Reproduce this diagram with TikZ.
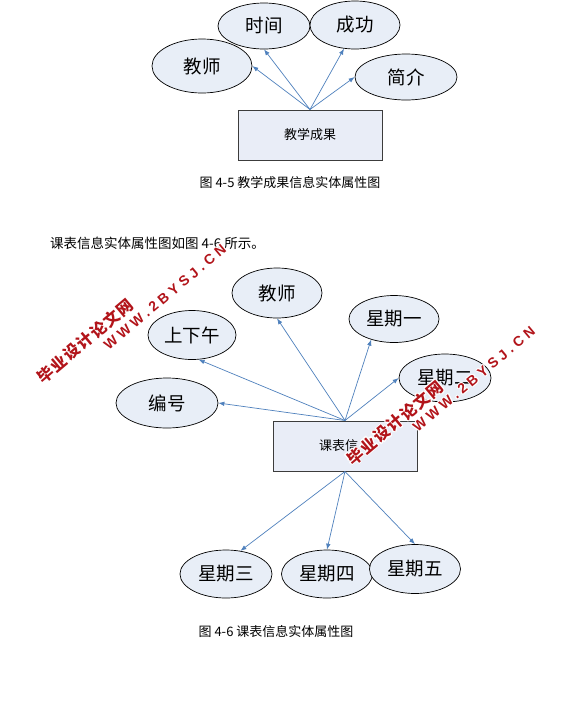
\documentclass[tikz,border=0pt]{standalone}
\usepackage{fontspec}
\setmainfont{Noto Sans CJK SC}
\newfontfamily\wmcjk{Noto Sans CJK SC}[LetterSpace=8]
\newfontfamily\wmlatin{Liberation Sans}[LetterSpace=28]
\usetikzlibrary{shapes.geometric,arrows.meta}
\definecolor{efill}{RGB}{232,238,247}
\definecolor{bfill}{RGB}{233,237,247}
\definecolor{boxdraw}{RGB}{60,60,60}
\definecolor{arrowc}{RGB}{79,129,189}
\definecolor{wmred}{RGB}{178,20,26}
\newcommand\wmark[3]{% #1 name, #2 style, #3 text (position from coordinate named #1pos)
  \foreach \dx/\dy in {1.1/0,-1.1/0,0/1.1,0/-1.1,0.8/0.8,-0.8/0.8,0.8/-0.8,-0.8/-0.8}
    \node[#2,text=white,xshift=\dx pt,yshift=\dy pt] at (#1pos) {#3};
  \node[#2] (#1) at (#1pos) {#3};
}
\begin{document}
\begin{tikzpicture}[x=1pt,y=-1pt,
  attr/.style={ellipse,draw=black,line width=0.7pt,fill=efill,inner sep=0pt,
    font=\fontsize{18.5}{20}\selectfont},
  ent/.style={rectangle,draw=boxdraw,line width=1pt,fill=bfill,inner sep=0pt,
    minimum width=144pt,minimum height=50pt,font=\fontsize{13}{15}\selectfont},
  conn/.style={draw=arrowc,line width=0.7pt,-{Latex[length=6pt,width=4.5pt]}},
  captxt/.style={inner sep=0pt,font=\fontsize{13}{15}\selectfont},
  wmcn/.style={rotate=40,text=wmred,inner sep=0pt,font=\wmcjk\bfseries\fontsize{16}{16}\selectfont},
  wmen/.style={rotate=40,text=wmred,inner sep=0pt,font=\wmlatin\bfseries\fontsize{14}{14}\selectfont}]
\useasboundingbox[fill=white] (0,0) rectangle (586,705);

% ---------- Figure 4-5 ----------
\node[ent] (b1) at (310,135) {教学成果};
\node[attr,minimum width=100pt,minimum height=54pt] (a1) at (202,66) {教师};
\node[attr,minimum width=92pt,minimum height=46pt] (a2) at (264,26) {时间};
\node[attr,minimum width=90pt,minimum height=48pt] (a3) at (355,25) {成功};
\node[attr,minimum width=102pt,minimum height=46pt] (a4) at (406,77) {简介};
\draw[conn] (b1.north) -- (a1.east);
\draw[conn] (b1.north) -- (a2.south);
\draw[conn] (b1.north) -- (a3.245);
\draw[conn] (b1.north) -- (a4.west);
\node[captxt] (c1) at (290,183) {图 4-5 教学成果信息实体属性图};

\node[captxt,anchor=west,font=\fontsize{13.5}{15}\selectfont] (t1) at (50,243) {课表信息实体属性图如图 4-6 所示。};

% ---------- Figure 4-6 ----------
\node[ent] (b2) at (345,446) {课表信\phantom{息}};
\node[attr,minimum width=90pt,minimum height=50pt] (d1) at (277,293) {教师};
\node[attr,minimum width=90pt,minimum height=47pt] (d2) at (394,319) {星期一};
\node[attr,minimum width=88pt,minimum height=49pt] (d3) at (192,335) {上下午};
\node[attr,minimum width=92pt,minimum height=48pt] (d4) at (445,378) {星期二};
\node[attr,minimum width=102pt,minimum height=50pt] (d5) at (167,403) {编号};
\node[attr,minimum width=92pt,minimum height=48pt] (d6) at (226,574) {星期三};
\node[attr,minimum width=91pt,minimum height=48pt] (d7) at (327,574) {星期四};
\node[attr,minimum width=91pt,minimum height=49pt] (d8) at (415,569) {星期五};
\draw[conn] (b2.north) -- (d1.south);
\draw[conn] (b2.north) -- (d2.222);
\draw[conn] (b2.north) -- (d3.285);
\draw[conn] (b2.north) -- (d4.west);
\draw[conn] (b2.north) -- (d5.east);
\draw[conn] (b2.south) -- (d6.58);
\draw[conn] (b2.south) -- (d7.north);
\draw[conn] (b2.south) -- (d8.north);
\node[captxt] (c2) at (276,632) {图 4-6 课表信息实体属性图};

% ---------- watermarks (white halo behind red text) ----------
\coordinate (wm1pos) at (85,341);
\coordinate (wm2pos) at (165,297);
\coordinate (wm3pos) at (395,423);
\coordinate (wm4pos) at (474,379);
\wmark{wm1}{wmcn}{毕业设计论文网}
\wmark{wm2}{wmen}{WWW.2BYSJ.CN}
\wmark{wm3}{wmcn}{毕业设计论文网}
\wmark{wm4}{wmen}{WWW.2BYSJ.CN}
\end{tikzpicture}
\end{document}
